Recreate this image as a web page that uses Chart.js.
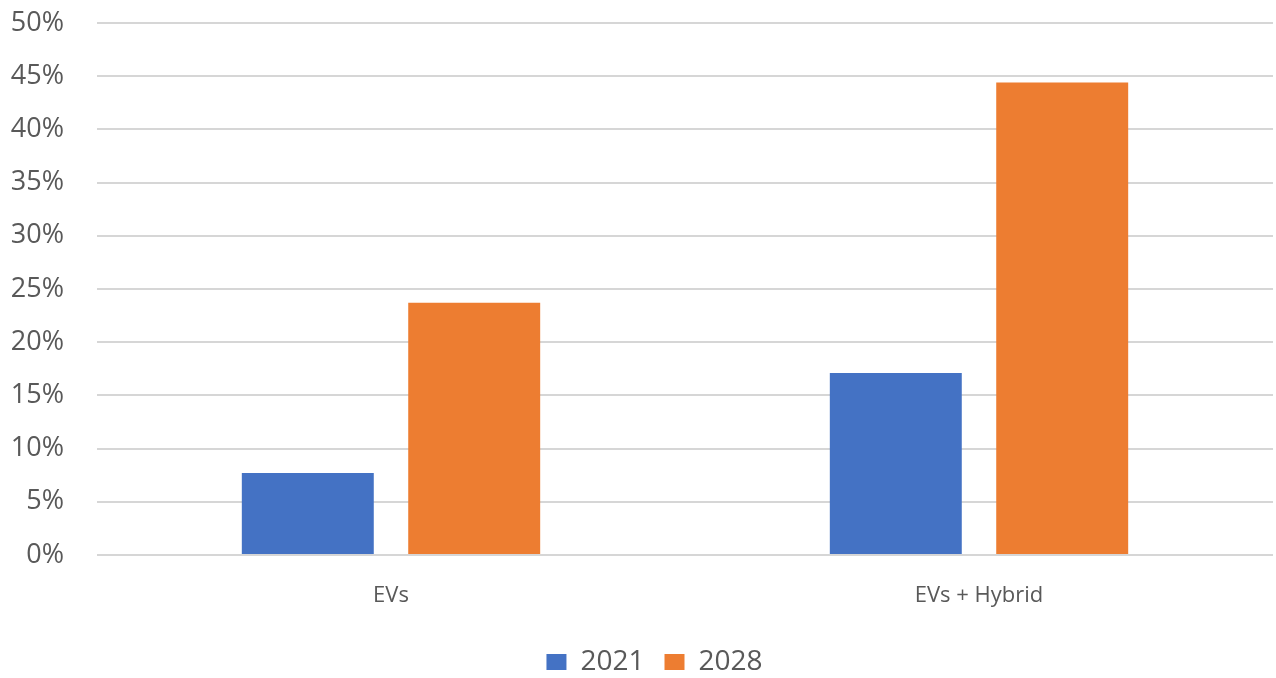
<!DOCTYPE html>
<html lang="en">
<head>
  <meta charset="UTF-8">
  <title>EV Share 2021 vs 2028</title>
  <script src="https://cdn.jsdelivr.net/npm/chart.js@4.4.1/dist/chart.umd.min.js"></script>
  <style>
    html, body { margin: 0; padding: 0; background: #fff; }
    #chart { display: block; }
  </style>
</head>
<body>
  <canvas id="chart" width="1276" height="678"></canvas>
  <script>
    // chart data
    const categories = ['EVs', 'EVs + Hybrid'];
    const years = ['2021', '2028'];
    const share2021 = [7.7, 17.1];
    const share2028 = [23.7, 44.4];

    const textGrey = '#595959';
    const fontFamily = "'Open Sans', 'Liberation Sans', sans-serif";

    // nudge the legend a little right of the canvas centre
    const legendShift = {
      id: 'legendShift',
      afterLayout(chart) {
        if (chart.legend) chart.legend.left += 36;
      }
    };

    const ctx = document.getElementById('chart').getContext('2d');
    const chart = new Chart(ctx, {
      type: 'bar',
      data: {
        labels: categories,
        datasets: [
          { label: years[0], data: share2021, backgroundColor: '#4472C4' },
          { label: years[1], data: share2028, backgroundColor: '#ED7D31' }
        ]
      },
      plugins: [legendShift],
      options: {
        responsive: false,
        animation: false,
        layout: { padding: { top: 23, right: 3, bottom: -8, left: 0 } },
        datasets: {
          bar: { categoryPercentage: 0.566, barPercentage: 0.793 }
        },
        scales: {
          x: {
            grid: { display: false },
            border: { display: false },
            ticks: {
              color: textGrey,
              padding: 20,
              font: { family: fontFamily, size: 22 }
            },
            afterFit: function(scale) { scale.height = 73; }
          },
          y: {
            min: 0,
            max: 50,
            border: { display: false },
            // invisible tick marks keep the labels away from the grid
            grid: { color: '#d6d6d6', lineWidth: 2, tickLength: 28, tickColor: 'rgba(0,0,0,0)' },
            ticks: {
              stepSize: 5,
              color: textGrey,
              padding: 5,
              font: { family: fontFamily, size: 27 },
              callback: function(v) { return v + '%'; }
            },
            afterFit: function(scale) { scale.width = 97; }
          }
        },
        plugins: {
          tooltip: { enabled: false },
          legend: {
            position: 'bottom',
            labels: {
              color: textGrey,
              boxWidth: 20,
              boxHeight: 16,
              padding: 20,
              font: { family: fontFamily, size: 28 }
            }
          }
        }
      }
    });
  </script>
</body>
</html>
